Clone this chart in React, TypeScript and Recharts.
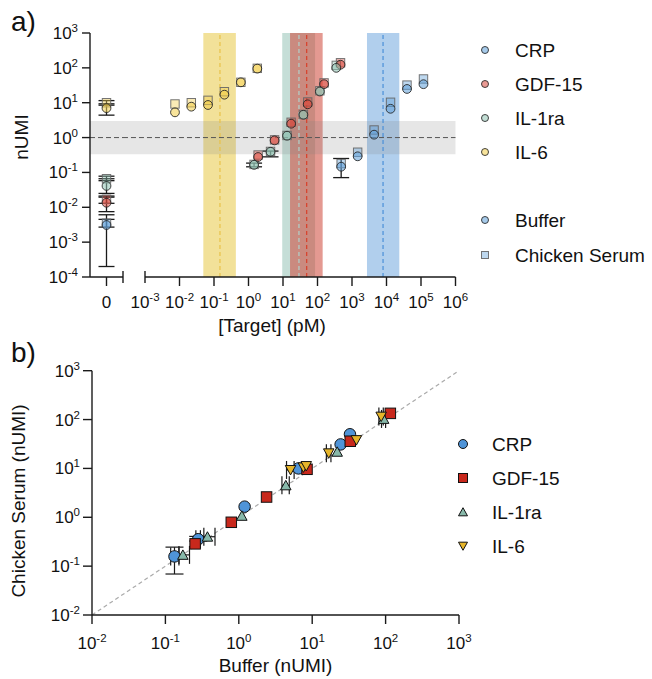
import React from 'react';
import { ScatterChart, Scatter, XAxis, YAxis, ReferenceArea, ReferenceLine, ErrorBar } from 'recharts';

const FONT = '"Liberation Sans", Arial, Helvetica, sans-serif';
const AXIS = '#1a1a1a';
const TICK_FS = 17;
const SUP_FS = 11.5;
const TITLE_FS = 19;

// ---------------- data: panel a ----------------
const TARGETS = ['CRP', 'GDF-15', 'IL-1ra', 'IL-6'];
const MATRICES = ['Buffer', 'Chicken Serum'];

type Err = [number, number] | null;

const CRP_CONC = [485, 1460, 4370, 13100, 39300, 118000];
const CRP_BUFFER = [0.146, 0.29, 1.21, 6.7, 24.8, 34];
const CRP_SERUM = [0.18, 0.38, 1.65, 10.3, 32, 48];
const CRP_BUFFER_ERR: Err[] = [[0.075, 0.105], null, null, null, null, null];

const GDF15_CONC = [1.9, 5.7, 17.2, 52, 155, 465];
const GDF15_BUFFER = [0.277, 0.83, 2.5, 9.0, 34, 123];
const GDF15_SERUM = [0.316, 0.86, 2.75, 10.5, 37, 140];
const GDF15_BUFFER_ERR: Err[] = [null, null, null, null, null, null];

const IL1RA_CONC = [1.45, 4.35, 13.1, 39, 117, 350];
const IL1RA_BUFFER = [0.165, 0.39, 1.13, 4.5, 21, 100];
const IL1RA_SERUM = [0.17, 0.4, 1.15, 4.6, 22, 118];
const IL1RA_BUFFER_ERR: Err[] = [[0.02, 0.02], [0.11, 0.02], null, null, null, null];

const IL6_CONC = [0.0074, 0.022, 0.067, 0.2, 0.6, 1.8];
const IL6_BUFFER = [5.3, 7.7, 8.6, 17, 38.5, 95];
const IL6_SERUM = [9.2, 10, 11.7, 20.7, 38.5, 97];
const IL6_BUFFER_ERR: Err[] = [null, null, null, null, null, null];

// blank (0 pM) measurements, one per target
const ZERO_BUFFER = [0.0031, 0.0135, 0.041, 7.0];
const ZERO_SERUM = [0.0035, 0.017, 0.066, 10];
const ZERO_BUFFER_ERR: Err[] = [[0.0029, 0.003], [0.006, 0.006], [0.016, 0.025], [2.6, 2.3]];
const ZERO_SERUM_ERR: Err[] = [[0.0008, 0.001], [0.004, 0.004], [0.008, 0.012], [1.5, 1.5]];

// concentration ranges (pM) per target
const BAND_LOW = [2720, 16, 9.5, 0.049];
const BAND_HIGH = [23500, 141, 85, 0.43];
const BAND_MID = [7940, 48.6, 29, 0.149];

const NOISE_LEVEL = 1;
const NOISE_LOW = 0.33;
const NOISE_HIGH = 3.0;

const A_Y_TICKS = [1e-4, 1e-3, 1e-2, 1e-1, 1, 10, 100, 1000];
const A_X_TICKS = [1e-3, 1e-2, 1e-1, 1, 10, 100, 1e3, 1e4, 1e5, 1e6];
const A_ZERO_TICKS = [0, 1];
const A_X_DOMAIN: [number, number] = [1e-3, 1e6];
const A_Y_DOMAIN: [number, number] = [1e-4, 1e3];
const A_GAP_START = 2.3e-4;

// ---------------- data: panel b ----------------
const B_CRP_X = [0.133, 0.28, 1.2, 6.5, 24.4, 32.7];
const B_CRP_Y = [0.158, 0.356, 1.65, 10, 31, 50];
const B_CRP_EX: Err[] = [[0.015, 0.02], [0.02, 0.02], null, null, null, null];
const B_CRP_EY: Err[] = [[0.089, 0.087], [0.03, 0.05], null, null, null, null];

const B_GDF_X = [0.254, 0.79, 2.39, 8.5, 33, 116];
const B_GDF_Y = [0.286, 0.79, 2.6, 9.6, 36, 134];

const B_IL1_X = [0.173, 0.374, 1.1, 4.37, 21.9, 94];
const B_IL1_Y = [0.17, 0.4, 1.07, 4.5, 21.9, 103];
const B_IL1_EX: Err[] = [[0.02, 0.04], [0.04, 0.1], null, [0.5, 0.5], null, [6, 6]];

const B_IL6_X = [5.07, 7.6, 8.3, 16.8, 40, 87];
const B_IL6_Y = [9.3, 10.5, 11.2, 20.4, 38, 115];
const B_IL6_EX: Err[] = [[0.6, 0.6], null, null, [1.2, 1.2], null, [6, 6]];

const B_TICKS = [1e-2, 1e-1, 1, 10, 100, 1000];
const B_DOMAIN: [number, number] = [1e-2, 1e3];

// ---------------- styles ----------------
const A_COLORS = ['#5d9ed8', '#d8473b', '#8fc2b2', '#f2cd48'];
const A_BAND_FILL = ['#64a0dc', '#cd4637', '#8cbeaf', '#e8c846'];
const A_BAND_OPACITY = [0.5, 0.55, 0.5, 0.55];
const A_DASH_COLOR = ['#4a8fd8', '#d8402a', '#b0d2ca', '#e8c24a'];
const B_COLORS = ['#4f94d8', '#c8281c', '#88b9aa', '#e6b52a'];

type ShapeKind = 'circle' | 'square' | 'up' | 'down';
const B_KINDS: ShapeKind[] = ['circle', 'square', 'up', 'down'];

function drawShape(kind: ShapeKind, cx: number, cy: number, size: number, style: any) {
  const h = size / 2;
  if (kind === 'circle') return <circle cx={cx} cy={cy} r={h} {...style} />;
  if (kind === 'square') return <rect x={cx - h} y={cy - h} width={size} height={size} {...style} />;
  if (kind === 'up')
    return <polygon points={`${cx - h},${cy + h * 0.85} ${cx + h},${cy + h * 0.85} ${cx},${cy - h * 0.95}`} {...style} />;
  return <polygon points={`${cx - h},${cy - h * 0.85} ${cx + h},${cy - h * 0.85} ${cx},${cy + h * 0.95}`} {...style} />;
}

function makeShape(kind: ShapeKind, size: number, style: any) {
  return (p: any) => {
    if (typeof p.cx !== 'number' || typeof p.cy !== 'number') return <g />;
    return drawShape(kind, p.cx, p.cy, size, style);
  };
}

const bufferStyleA = (c: string) => ({ fill: c, fillOpacity: 0.55, stroke: '#222', strokeOpacity: 0.85, strokeWidth: 1 });
const serumStyleA = (c: string) => ({ fill: c, fillOpacity: 0.4, stroke: '#666', strokeOpacity: 0.9, strokeWidth: 1 });
const styleB = (c: string) => ({ fill: c, stroke: '#111', strokeWidth: 1 });

function zip(xs: number[], ys: number[], ey?: Err[], ex?: Err[]) {
  return xs.map((x, i) => ({ x, y: ys[i], ey: ey ? ey[i] : null, ex: ex ? ex[i] : null }));
}

const A_CONC = [CRP_CONC, GDF15_CONC, IL1RA_CONC, IL6_CONC];
const A_BUF = [CRP_BUFFER, GDF15_BUFFER, IL1RA_BUFFER, IL6_BUFFER];
const A_SER = [CRP_SERUM, GDF15_SERUM, IL1RA_SERUM, IL6_SERUM];
const A_BUF_ERR = [CRP_BUFFER_ERR, GDF15_BUFFER_ERR, IL1RA_BUFFER_ERR, IL6_BUFFER_ERR];

const B_X = [B_CRP_X, B_GDF_X, B_IL1_X, B_IL6_X];
const B_Y = [B_CRP_Y, B_GDF_Y, B_IL1_Y, B_IL6_Y];
const B_EX = [B_CRP_EX, null, B_IL1_EX, B_IL6_EX];
const B_EY = [B_CRP_EY, null, null, null];

// ---------------- ticks ----------------
function Pow10({ x, y, v, anchor }: { x: number; y: number; v: number; anchor: 'start' | 'middle' | 'end' }) {
  const e = Math.round(Math.log10(v));
  return (
    <text x={x} y={y} textAnchor={anchor} fontFamily={FONT} fontSize={TICK_FS} fill="#111">
      <tspan>10</tspan>
      <tspan dy={-7} fontSize={SUP_FS}>{String(e)}</tspan>
    </text>
  );
}

const makeYTick = (len: number, gap: number) => (p: any) => (
  <g>
    <line x1={p.x - len} x2={p.x} y1={p.y} y2={p.y} stroke={AXIS} strokeWidth={1.4} />
    <Pow10 x={p.x - len - gap} y={p.y + 6} v={p.payload.value} anchor="end" />
  </g>
);

const XTickA = (p: any) => {
  const first = p.index === 0;
  return (
    <g>
      <line x1={p.x} x2={p.x} y1={first ? p.y - 6 : p.y} y2={first ? p.y + 6 : p.y + 9} stroke={AXIS} strokeWidth={1.4} />
      <Pow10 x={p.x} y={p.y + 31} v={p.payload.value} anchor="middle" />
    </g>
  );
};

const ZeroTick = (p: any) =>
  p.payload.value === 0 ? (
    <g>
      <line x1={p.x} x2={p.x} y1={p.y} y2={p.y + 9} stroke={AXIS} strokeWidth={1.4} />
      <text x={p.x} y={p.y + 31} textAnchor="middle" fontFamily={FONT} fontSize={TICK_FS} fill="#111">
        {String(p.payload.value)}
      </text>
    </g>
  ) : (
    <line x1={p.x} x2={p.x} y1={p.y - 6} y2={p.y + 6} stroke={AXIS} strokeWidth={1.4} />
  );

const XTickB = (p: any) => (
  <g>
    <line x1={p.x} x2={p.x} y1={p.y} y2={p.y + 9} stroke={AXIS} strokeWidth={1.4} />
    <Pow10 x={p.x} y={p.y + 34} v={p.payload.value} anchor="middle" />
  </g>
);

const axisLine = { stroke: AXIS, strokeWidth: 1.4 };

function scattersA(zero: boolean) {
  const out: React.ReactNode[] = [];
  TARGETS.forEach((t, i) => {
    const data = zero ? [{ x: 0, y: ZERO_SERUM[i], ey: ZERO_SERUM_ERR[i] }] : zip(A_CONC[i], A_SER[i]);
    out.push(
      <Scatter key={`s-${t}`} name={`${t} ${MATRICES[1]}`} data={data} isAnimationActive={false}
        shape={makeShape('square', 8.4, serumStyleA(A_COLORS[i]))}>
        {zero && <ErrorBar dataKey="ey" direction="y" width={8} stroke={AXIS} strokeWidth={1.3} />}
      </Scatter>
    );
  });
  TARGETS.forEach((t, i) => {
    const data = zero ? [{ x: 0, y: ZERO_BUFFER[i], ey: ZERO_BUFFER_ERR[i] }] : zip(A_CONC[i], A_BUF[i], A_BUF_ERR[i]);
    out.push(
      <Scatter key={`b-${t}`} name={`${t} ${MATRICES[0]}`} data={data} isAnimationActive={false}
        shape={makeShape('circle', 8.8, bufferStyleA(A_COLORS[i]))}>
        <ErrorBar dataKey="ey" direction="y" width={8} stroke={AXIS} strokeWidth={1.3} />
      </Scatter>
    );
  });
  return out;
}

export default function App() {
  const legendA = [
    ...TARGETS.map((t, i) => ({ label: t, kind: 'circle' as ShapeKind, style: bufferStyleA(A_COLORS[i]), y: 50 + i * 34 })),
    { label: MATRICES[0], kind: 'circle' as ShapeKind, style: bufferStyleA(A_COLORS[0]), y: 220 },
    { label: MATRICES[1], kind: 'square' as ShapeKind, style: serumStyleA(A_COLORS[0]), y: 255 },
  ];
  return (
    <div style={{ position: 'absolute', left: 0, top: 0, width: 652, height: 679, background: '#fff', fontFamily: FONT }}>
      {/* panel a : blank column */}
      <div style={{ position: 'absolute', left: 0, top: 0 }}>
        <ScatterChart width={126} height={320} margin={{ top: 33, right: 3, bottom: 0, left: 0 }}>
          <XAxis dataKey="x" type="number" domain={[-1, 1]} ticks={A_ZERO_TICKS} allowDataOverflow interval={0}
            height={43} tickSize={0} tickMargin={0} tickLine={false} axisLine={axisLine} tick={ZeroTick} />
          <YAxis dataKey="y" type="number" scale="log" domain={A_Y_DOMAIN} ticks={A_Y_TICKS} allowDataOverflow interval={0}
            width={90} tickSize={0} tickMargin={0} tickLine={false} axisLine={axisLine} tick={makeYTick(8, 4)} />
          <ReferenceArea y1={NOISE_LOW} y2={NOISE_HIGH} fill="#808080" fillOpacity={0.2} stroke="none" ifOverflow="visible" />
          <ReferenceLine y={NOISE_LEVEL} stroke="#555" strokeDasharray="5 3" strokeWidth={1} />
          {scattersA(true)}
        </ScatterChart>
      </div>
      {/* panel a : concentration axis */}
      <div style={{ position: 'absolute', left: 123, top: 0 }}>
        <ScatterChart width={360} height={320} margin={{ top: 33, right: 27.5, bottom: 0, left: 22 }}>
          <XAxis dataKey="x" type="number" scale="log" domain={A_X_DOMAIN} ticks={A_X_TICKS} allowDataOverflow interval={0}
            height={43} tickSize={0} tickMargin={0} tickLine={false} axisLine={axisLine} tick={XTickA} />
          <YAxis dataKey="y" type="number" scale="log" domain={A_Y_DOMAIN} allowDataOverflow hide width={0} />
          {[3, 2, 1, 0].map((i) => (
            <ReferenceArea key={`band-${i}`} x1={BAND_LOW[i]} x2={BAND_HIGH[i]} fill={A_BAND_FILL[i]}
              fillOpacity={A_BAND_OPACITY[i]} stroke="none" ifOverflow="visible" />
          ))}
          {[3, 2, 1, 0].map((i) => (
            <ReferenceLine key={`mid-${i}`} x={BAND_MID[i]} stroke={A_DASH_COLOR[i]} strokeDasharray="4 3" strokeWidth={1.2} />
          ))}
          <ReferenceArea x1={A_GAP_START} x2={A_X_DOMAIN[1]} y1={NOISE_LOW} y2={NOISE_HIGH} fill="#808080" fillOpacity={0.2}
            stroke="none" ifOverflow="visible" />
          <ReferenceLine segment={[{ x: A_GAP_START, y: NOISE_LEVEL }, { x: A_X_DOMAIN[1], y: NOISE_LEVEL }]}
            stroke="#555" strokeDasharray="5 3" strokeWidth={1} ifOverflow="visible" />
          {scattersA(false)}
        </ScatterChart>
      </div>
      {/* panel b */}
      <div style={{ position: 'absolute', left: 0, top: 340 }}>
        <ScatterChart width={652} height={339} margin={{ top: 30.7, right: 193, bottom: 0, left: 0 }}>
          <XAxis dataKey="x" type="number" scale="log" domain={B_DOMAIN} ticks={B_TICKS} allowDataOverflow interval={0}
            height={64} tickSize={0} tickMargin={0} tickLine={false} axisLine={axisLine} tick={XTickB} />
          <YAxis dataKey="y" type="number" scale="log" domain={B_DOMAIN} ticks={B_TICKS} allowDataOverflow interval={0}
            width={92} tickSize={0} tickMargin={0} tickLine={false} axisLine={axisLine} tick={makeYTick(9, 3)} />
          <ReferenceLine segment={[{ x: B_DOMAIN[0], y: B_DOMAIN[0] }, { x: B_DOMAIN[1], y: B_DOMAIN[1] }]}
            stroke="#aaa" strokeDasharray="4 3" strokeWidth={1.2} ifOverflow="visible" />
          {TARGETS.map((t, i) => (
            <Scatter key={t} name={t} data={zip(B_X[i], B_Y[i], B_EY[i] || undefined, B_EX[i] || undefined)}
              isAnimationActive={false} shape={makeShape(B_KINDS[i], i === 0 ? 11.5 : 10.5, styleB(B_COLORS[i]))}>
              <ErrorBar dataKey="ex" direction="x" width={9} stroke={AXIS} strokeWidth={1.2} />
              <ErrorBar dataKey="ey" direction="y" width={9} stroke={AXIS} strokeWidth={1.2} />
            </Scatter>
          ))}
        </ScatterChart>
      </div>
      {/* titles and legends */}
      <svg style={{ position: 'absolute', left: 0, top: 0, pointerEvents: 'none' }} width={652} height={679}>
        <g fontFamily={FONT} fill="#111">
          <text x={11} y={31} fontSize={28}>a)</text>
          <text x={11} y={362} fontSize={28}>b)</text>
          <text transform="translate(28,137) rotate(-90)" textAnchor="middle" fontSize={TITLE_FS}>nUMI</text>
          <text x={272} y={332} textAnchor="middle" fontSize={TITLE_FS}>[Target] (pM)</text>
          <text transform="translate(25,501) rotate(-90)" textAnchor="middle" fontSize={TITLE_FS}>Chicken Serum (nUMI)</text>
          <text x={275.5} y={672} textAnchor="middle" fontSize={TITLE_FS}>Buffer (nUMI)</text>
          {legendA.map((l) => (
            <g key={l.label}>
              {drawShape(l.kind, 485, l.y, 7, l.style)}
              <text x={515} y={l.y + 6.5} fontSize={TITLE_FS}>{l.label}</text>
            </g>
          ))}
          {TARGETS.map((t, i) => (
            <g key={`lb-${t}`}>
              {drawShape(B_KINDS[i], 463, 444 + i * 34, 9, styleB(B_COLORS[i]))}
              <text x={492} y={444 + i * 34 + 6.5} fontSize={TITLE_FS}>{t}</text>
            </g>
          ))}
        </g>
      </svg>
    </div>
  );
}
